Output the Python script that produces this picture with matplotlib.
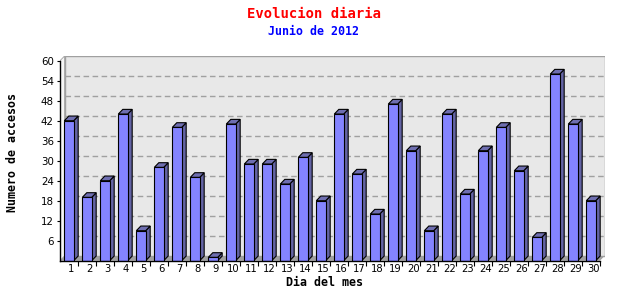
import numpy as np
import matplotlib
matplotlib.use("Agg")
import matplotlib.pyplot as plt
from matplotlib.patches import Polygon, Rectangle

# data
dias = list(range(1, 31))
accesos = [42, 19, 24, 44, 9, 28, 40, 25, 1, 41, 29, 29, 23, 31, 18,
           44, 26, 14, 47, 33, 9, 44, 20, 33, 40, 27, 7, 56, 41, 18]
y_ticks = list(range(6, 61, 6))
titulo = "Evolucion diaria"
subtitulo = "Junio de 2012"
x_label = "Dia del mes"
y_label = "Numero de accesos"

W, H = 640, 300
YMAX = 60
DX, DY = 0.25, 1.4      # 3d depth (x in slots, y in data units)
BW = 0.52               # bar front width

FRONT = "#8484ff"
SIDE = "#6464a4"
TOP = "#6e6eb0"
WALL = "#e8e8e8"
EDGE_GRAY = "#a0a0a0"

fig = plt.figure(figsize=(W / 100, H / 100), dpi=100)
fig.patch.set_facecolor("white")

# axes placed in pixels: front axis at x=60, zero at y=260.7
px_slot = 18.0
px_unit = 3.333
left_px, zero_px = 60, 260.7
n = len(dias)
ax_w = (n + DX) * px_slot
ax_h = (YMAX + DY) * px_unit
ax = fig.add_axes([left_px / W, (H - zero_px) / H, ax_w / W, ax_h / H])
ax.set_xlim(0.5, n + 0.5 + DX)
ax.set_ylim(0, YMAX + DY)
ax.patch.set_alpha(0)

x0, x1 = 0.5, n + 0.5

# back wall, left wall and floor
ax.add_patch(Rectangle((x0 + DX, DY), x1 - x0, YMAX, facecolor=WALL,
                       edgecolor=EDGE_GRAY, lw=1, zorder=0))
ax.add_patch(Polygon([(x0, 0), (x0 + DX, DY), (x0 + DX, YMAX + DY), (x0, YMAX)],
                     closed=True, facecolor="#f6f6f6", edgecolor=EDGE_GRAY,
                     lw=0.6, zorder=0))
ax.add_patch(Polygon([(x0, 0), (x1, 0), (x1 + DX, DY), (x0 + DX, DY)],
                     closed=True, facecolor=EDGE_GRAY, edgecolor="none", zorder=0.5))

# dashed grid on back wall
for v in y_ticks[:-1]:
    ax.plot([x0 + DX, x1 + DX], [v + DY, v + DY], color=EDGE_GRAY, lw=1,
            dashes=(4, 2.5), zorder=0.6)

# bars with top and side faces
for d, v in zip(dias, accesos):
    l, r = d - BW / 2, d + BW / 2
    ax.add_patch(Polygon([(r, 0), (r + DX, DY), (r + DX, v + DY), (r, v)],
                         closed=True, facecolor=SIDE, edgecolor="black", lw=0.8, zorder=2))
    ax.add_patch(Polygon([(l, v), (r, v), (r + DX, v + DY), (l + DX, v + DY)],
                         closed=True, facecolor=TOP, edgecolor="black", lw=0.8, zorder=2))
    ax.add_patch(Rectangle((l, 0), BW, v, facecolor=FRONT, edgecolor="black",
                           lw=0.8, zorder=3))

# axes lines
for s in ["top", "right"]:
    ax.spines[s].set_visible(False)
ax.spines["left"].set_bounds(0, YMAX)
ax.spines["left"].set_position(("data", x0))
ax.spines["bottom"].set_bounds(x0, x1)
for s in ["left", "bottom"]:
    ax.spines[s].set_linewidth(1)
    ax.spines[s].set_zorder(4)

ax.set_yticks(y_ticks)
ax.set_yticklabels([str(t) for t in y_ticks])
ax.tick_params(axis="y", length=2, width=0.8, pad=2.5, labelsize=7.4)

ax.set_xticks([d + 0.5 for d in dias])
ax.set_xticklabels([])
ax.set_xticks([d + DX / 2 for d in dias], minor=True)
ax.set_xticklabels([str(d) for d in dias], minor=True)
ax.tick_params(axis="x", which="major", length=3.5, width=0.8)
ax.tick_params(axis="x", which="minor", length=0, pad=2.6, labelsize=7.2)

mono = "DejaVu Sans Mono"
fig.text(314 / W, 1 - 14.5 / H, titulo, color="red", fontsize=10,
         fontweight="bold", family=mono, ha="center", va="center")
fig.text(314 / W, 1 - 31.5 / H, subtitulo, color="blue", fontsize=8.4,
         fontweight="bold", family=mono, ha="center", va="center")
fig.text(324 / W, 1 - 282 / H, x_label, color="black", fontsize=8.4,
         fontweight="bold", family=mono, ha="center", va="center")
fig.text(13 / W, 1 - 152.5 / H, y_label, color="black", fontsize=8.4,
         fontweight="bold", family=mono, ha="center", va="center", rotation=90)

fig.savefig("out.png", dpi=100, facecolor="white")
